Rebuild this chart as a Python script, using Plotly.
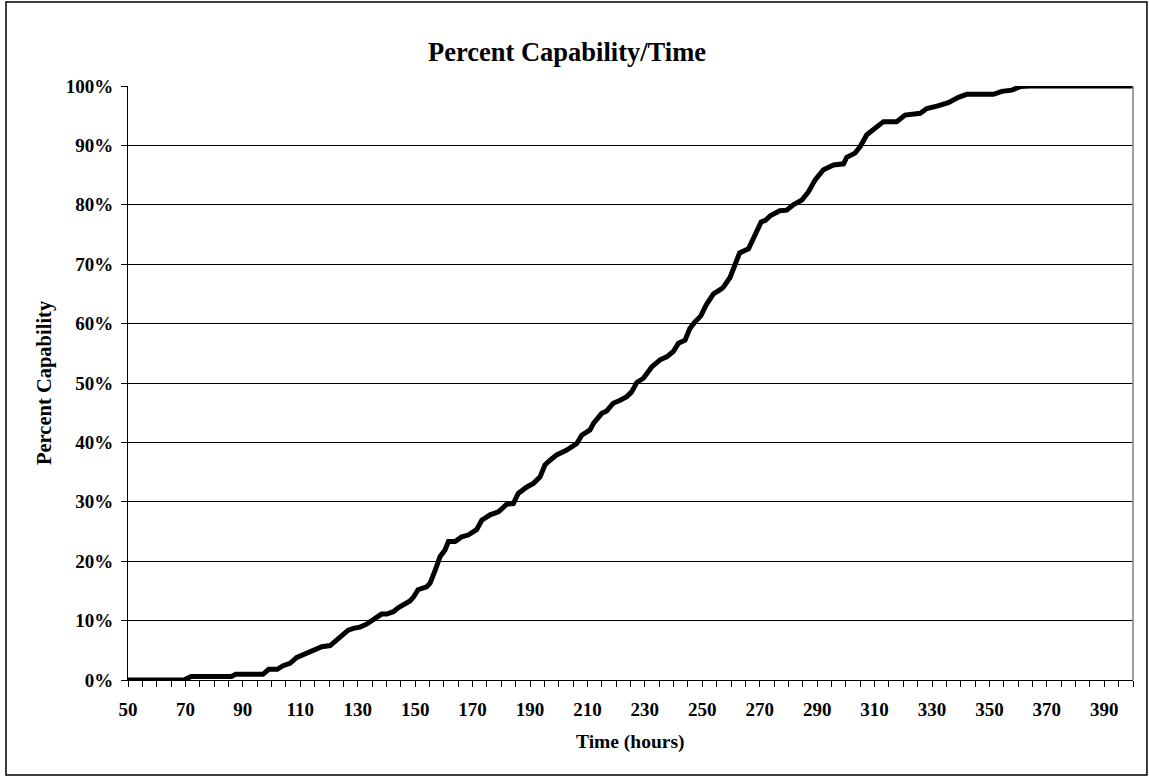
import plotly.graph_objects as go

# time (hours) vs percent capability
hours = [50, 69.5, 72, 86, 87.5, 97, 99, 102, 104, 106.4, 108.8, 111, 113.4, 115.7,
         117.5, 120.4, 122, 124.4, 126.7, 128.5, 130.8, 133.1, 135.4, 138.3, 140.1,
         142.4, 144.2, 146, 148.2, 149.5, 151, 154, 155.2, 157, 158.7, 160.4, 161.6,
         163.9, 166.2, 168.5, 171.4, 173.2, 176.1, 179, 181.9, 184.2, 185.9, 188.9,
         191.2, 193.5, 195.2, 197, 199.3, 202.8, 206.3, 208, 210.9, 212.1, 215, 216.7,
         219, 221.4, 223.7, 225.4, 227.2, 229.5, 232.4, 235.3, 237.6, 239.9, 241.7,
         244, 245.7, 247.5, 249.5, 251.3, 253.9, 256.5, 257.3, 259.7, 261.4, 263,
         266.1, 268.4, 270.5, 272, 273.8, 277, 279.4, 281.7, 284.7, 287, 289.3, 292.2,
         295.7, 299.2, 300.3, 303.2, 305, 307.3, 309.6, 313.1, 317.7, 320.6, 325.9,
         328.2, 331.7, 335.7, 339.2, 342.1, 351.4, 354.3, 357.8, 360.7, 364.2, 400]
capability = [0, 0, 0.6, 0.6, 0.95, 0.95, 1.8, 1.8, 2.4, 2.8, 3.8, 4.2, 4.8, 5.05,
              5.6, 5.8, 6.4, 7.3, 8.4, 8.7, 8.9, 9.4, 10.1, 11.1, 11.1,
              11.5, 12.2, 12.6, 13.3, 14.0, 15.2, 15.7, 16.3, 18.5, 20.8, 21.9, 23.3,
              23.3, 24.1, 24.4, 25.3, 26.9, 27.8, 28.3, 29.6, 29.7, 31.4, 32.5,
              33.1, 34.2, 36.2, 37, 37.9, 38.7, 39.8, 41.2, 42.1, 43.2, 44.9, 45.3,
              46.6, 47.1, 47.7, 48.5, 50.1, 50.8, 52.7, 53.9, 54.4, 55.3, 56.7,
              57.2, 59.2, 60.3, 61.3, 63.1, 65, 65.8, 66.1, 67.8, 70.1, 71.9,
              72.6, 74.9, 77.1, 77.4, 78.2, 79.0, 79.1, 80, 80.8, 82.2, 84.2, 85.9,
              86.7, 86.9, 88, 88.7, 89.8, 91.8, 92.6, 94, 94, 95.1, 95.4,
              96.2, 96.6, 97.2, 98.1, 98.6, 98.6, 99.1, 99.3, 99.9, 100, 100]

title_text = "Percent Capability/Time"
x_title = "Time (hours)"
y_title = "Percent Capability"

serif = "Liberation Serif, Times New Roman, serif"

fig = go.Figure()
fig.add_trace(go.Scatter(x=hours, y=capability, mode='lines',
                         line=dict(color='black', width=5), showlegend=False))

fig.update_xaxes(range=[50, 400], tick0=50, dtick=20, ticks='outside', ticklen=6,
                 tickcolor='black', showline=True, linecolor='black', linewidth=1,
                 showgrid=False, zeroline=False, ticklabelstandoff=6,
                 minor=dict(dtick=5, tick0=50, ticks='outside', ticklen=6, tickcolor='black', showgrid=False),
                 tickfont=dict(family=serif, size=19, color='black', weight='bold'))
fig.update_yaxes(range=[0, 100], dtick=10, ticksuffix='%', ticks='outside', ticklen=6,
                 tickcolor='black', showline=True, linecolor='black', linewidth=1,
                 showgrid=True, gridcolor='black', gridwidth=1, zeroline=False,
                 ticklabelstandoff=4,
                 tickfont=dict(family=serif, size=19, color='black', weight='bold'))

fig.update_layout(
    width=1149, height=776,
    margin=dict(l=128, r=16, t=86, b=96),
    paper_bgcolor='white', plot_bgcolor='white',
    title=dict(text=title_text, x=0.4935, xanchor='center', y=1 - 52 / 776, yanchor='middle',
               font=dict(family=serif, size=26.5, color='black', weight='bold')),
    shapes=[
        # outer chart border
        dict(type='rect', xref='paper', yref='paper', x0=-0.1214, x1=1.0139, y0=-0.16, y1=1.1414,
             line=dict(color='black', width=1.5)),
        # right side of the plot area
        dict(type='line', xref='paper', yref='paper', x0=1, x1=1, y0=0, y1=1,
             line=dict(color='#808080', width=1.5)),
    ],
    annotations=[
        dict(text=x_title, xref='paper', yref='paper', x=0.5, y=(680 - 742) / 594,
             xanchor='center', yanchor='middle', showarrow=False,
             font=dict(family=serif, size=19.5, color='black', weight='bold')),
        dict(text=y_title, xref='paper', yref='paper', x=(44 - 128) / 1005, y=(680 - 383) / 594,
             xanchor='center', yanchor='middle', textangle=-90, showarrow=False,
             font=dict(family=serif, size=20.5, color='black', weight='bold')),
    ],
)

# drop the default page margin so the chart sits at the window corner
fig.write_html("out.html", config={'displayModeBar': False},
               post_script="document.body.style.margin='0';")
